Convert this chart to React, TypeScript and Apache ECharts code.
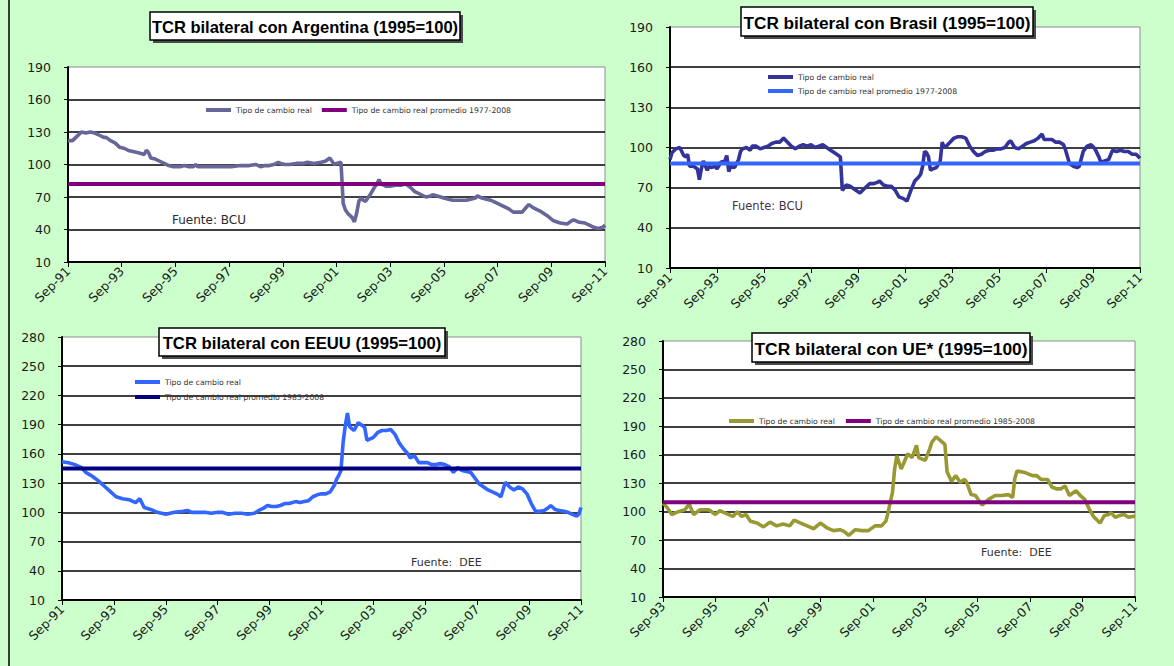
import React, { useEffect, useRef } from "react";
import * as echarts from "echarts";

// ---------- DATA (months counted from the first label of each panel) ----------
// Argentina: months since Sep-91
const argMonths = [0, 2, 4, 6, 8, 10, 12, 14, 16, 17, 19, 21, 23, 25, 27, 29, 31, 33, 34, 35, 36, 37, 39, 41, 43, 45, 47, 50, 52, 54, 56, 57, 58, 61, 65, 69, 73, 77, 81, 84, 86, 88, 90, 92, 94, 95, 97, 99, 102, 105, 107, 110, 113, 115, 117, 118, 119, 120, 122, 123, 124, 125, 127, 128, 129, 130, 131, 132, 133, 135, 137, 138, 139, 140, 142, 144, 147, 149, 151, 153, 155, 157, 160, 162, 163, 165, 168, 170, 172, 175, 178, 180, 182, 183, 185, 187, 189, 191, 194, 197, 199, 201, 203, 205, 206, 208, 211, 214, 217, 220, 223, 225, 226, 228, 231, 233, 235, 237, 239, 240];
const argValues = [122, 122, 126, 130, 129, 130, 129, 127, 125, 125, 122, 120, 116, 115, 113, 112, 111, 110, 109, 113, 111, 106, 105, 103, 101, 99, 98, 98, 99, 98, 98, 100, 98, 98, 98, 98, 98, 99, 99, 100, 98, 99, 99, 100, 102, 101, 100, 100, 101, 101, 102, 101, 102, 103, 106, 103, 100, 101, 102, 64, 58, 55, 51, 47, 55, 66, 69, 67, 66, 72, 79, 82, 86, 82, 80, 80, 81, 81, 82, 79, 75, 73, 70, 71, 72, 71, 69, 68, 67, 67, 67, 68, 69, 71, 69, 68, 67, 65, 62, 59, 56, 56, 56, 61, 63, 60, 57, 53, 48, 46, 45, 48, 49, 47, 46, 44, 42, 41, 42, 44];
const argAverage = 82;

// Brasil: months since Sep-91
const braMonths = [0, 1, 3, 5, 7, 8, 9, 10, 12, 14, 15, 16, 17, 19, 20, 21, 23, 24, 26, 28, 29, 30, 31, 33, 35, 36, 37, 39, 41, 42, 44, 46, 48, 50, 52, 54, 56, 58, 60, 62, 64, 66, 68, 70, 72, 74, 76, 78, 80, 82, 84, 86, 87, 88, 89, 90, 92, 94, 97, 99, 102, 104, 106, 107, 109, 111, 113, 115, 117, 119, 121, 123, 125, 127, 128, 129, 130, 131, 132, 133, 134, 136, 138, 139, 140, 141, 143, 145, 147, 149, 151, 153, 155, 157, 159, 161, 163, 165, 167, 169, 171, 173, 174, 176, 178, 180, 182, 184, 186, 188, 190, 191, 193, 195, 197, 199, 201, 202, 204, 206, 208, 209, 211, 213, 215, 217, 219, 220, 222, 224, 226, 228, 230, 232, 234, 236, 238, 240];
const braValues = [91, 96, 99, 100, 94, 93, 95, 86, 86, 84, 76, 84, 90, 83, 86, 85, 86, 84, 89, 90, 94, 82, 86, 85, 91, 97, 99, 100, 98, 101, 101, 99, 100, 101, 103, 104, 104, 107, 104, 101, 99, 101, 102, 101, 102, 100, 101, 102, 100, 98, 96, 94, 93, 68, 70, 72, 71, 69, 66, 69, 73, 73, 74, 75, 72, 71, 71, 68, 63, 62, 60, 68, 75, 78, 80, 86, 97, 96, 93, 83, 84, 85, 90, 104, 100, 101, 104, 107, 108, 108, 107, 101, 97, 94, 95, 97, 98, 98, 99, 99, 100, 104, 105, 100, 99, 101, 103, 104, 105, 107, 110, 106, 106, 106, 104, 104, 102, 98, 88, 86, 85, 86, 97, 101, 102, 99, 93, 89, 90, 91, 98, 97, 98, 97, 97, 95, 95, 92];
const braAverage = 88;

// EEUU: months since Sep-91
const usaMonths = [0, 3, 6, 9, 11, 14, 17, 20, 22, 25, 28, 31, 34, 36, 38, 41, 44, 48, 52, 56, 58, 60, 63, 66, 69, 72, 74, 77, 80, 83, 86, 89, 91, 93, 95, 97, 99, 101, 103, 105, 108, 110, 112, 114, 116, 118, 120, 122, 124, 126, 127, 128, 129, 130, 131, 132, 133, 134, 135, 137, 139, 140, 141, 142, 144, 146, 148, 150, 152, 154, 156, 158, 160, 161, 163, 165, 167, 169, 171, 173, 175, 177, 179, 181, 183, 185, 187, 189, 191, 193, 195, 197, 199, 201, 203, 205, 207, 209, 211, 213, 215, 217, 219, 221, 223, 225, 226, 228, 230, 232, 234, 236, 238, 239, 240];
const usaValues = [152, 151, 149, 146, 141, 137, 132, 126, 122, 116, 114, 113, 110, 114, 105, 103, 100, 98, 100, 101, 102, 100, 100, 100, 99, 100, 100, 98, 99, 99, 98, 99, 102, 104, 107, 106, 106, 107, 109, 109, 111, 110, 111, 112, 116, 118, 119, 119, 121, 128, 134, 138, 143, 172, 189, 202, 188, 186, 184, 192, 189, 187, 174, 175, 177, 182, 184, 184, 185, 180, 171, 165, 160, 156, 158, 151, 151, 151, 149, 149, 150, 149, 147, 141, 146, 143, 142, 141, 135, 129, 126, 123, 121, 119, 116, 131, 126, 123, 126, 124, 119, 109, 101, 101, 102, 105, 107, 103, 102, 101, 100, 98, 96, 98, 105];
const usaAverage = 145;

// UE: months since Sep-93
const ueMonths = [0, 2, 4, 7, 10, 12, 14, 17, 21, 24, 26, 29, 32, 34, 36, 38, 40, 43, 46, 49, 52, 55, 58, 60, 63, 66, 69, 72, 75, 78, 81, 83, 85, 88, 91, 94, 97, 100, 102, 103, 104, 105, 106, 107, 109, 112, 114, 116, 117, 120, 121, 122, 123, 125, 127, 129, 130, 132, 134, 136, 138, 139, 141, 143, 146, 149, 152, 155, 158, 160, 161, 162, 164, 166, 169, 171, 173, 176, 178, 180, 182, 184, 186, 189, 191, 193, 195, 197, 200, 202, 204, 205, 207, 209, 211, 213, 215, 216];
const ueValues = [109, 104, 97, 100, 102, 108, 97, 102, 102, 97, 101, 98, 95, 100, 95, 97, 90, 88, 84, 89, 85, 87, 85, 91, 88, 85, 82, 88, 83, 80, 81, 79, 75, 81, 80, 80, 85, 85, 90, 99, 110, 120, 145, 159, 145, 161, 157, 170, 157, 154, 160, 166, 173, 179, 175, 171, 142, 132, 138, 131, 134, 131, 118, 117, 107, 113, 117, 117, 118, 115, 135, 143, 142, 141, 138, 138, 134, 134, 126, 124, 124, 127, 117, 122, 117, 113, 103, 95, 88, 96, 97, 99, 94, 96, 97, 94, 95, 95];
const ueAverage = 110;

const realLabel = "Tipo de cambio real";
const avgLabel7708 = "Tipo de cambio real promedio 1977-2008";
const avgLabel8508 = "Tipo de cambio real promedio 1985-2008";
const titleTexts = [
  "TCR bilateral con Argentina (1995=100)",
  "TCR bilateral con Brasil (1995=100)",
  "TCR bilateral con EEUU (1995=100)",
  "TCR bilateral con UE* (1995=100)",
];
const sourceTexts = ["Fuente: BCU", "Fuente: BCU", "Fuente:  DEE", "Fuente:  DEE"];
const firstYears = [91, 91, 91, 93]; // first "Sep-YY" label of each panel

const FONT = '"DejaVu Sans", Verdana, sans-serif';

function zip(ms: number[], vs: number[]) {
  return ms.map((m, i) => [m, vs[i]]);
}

export default function App() {
  const ref = useRef<HTMLDivElement>(null);

  useEffect(() => {
    if (!ref.current) return;
    const chart = echarts.init(ref.current, null, { renderer: "svg" });

    const panels = [
      {
        id: "Argentina", months: argMonths, values: argValues, avg: argAverage, avgLabel: avgLabel7708,
        color: "#666699", avgColor: "#800080", yMax: 190, xMax: 240,
        grid: { left: 68, top: 67, width: 537, height: 195 },
        legend: { left: 206, top: 105, orient: "horizontal", itemGap: 10 },
        title: { x: 150, y: 12, w: 310, h: 28, fs: 16.5 },
        source: { x: 172, y: 220, fs: 12, color: "#2a2a2a" },
      },
      {
        id: "Brasil", months: braMonths, values: braValues, avg: braAverage, avgLabel: avgLabel7708,
        color: "#333399", avgColor: "#3366ff", yMax: 190, xMax: 240,
        grid: { left: 670, top: 27, width: 470, height: 241 },
        legend: { left: 768, top: 72, orient: "vertical", itemGap: 4 },
        title: { x: 741, y: 7, w: 292, h: 29, fs: 17.2 },
        source: { x: 732, y: 206, fs: 11.5, color: "#4a2f4a" },
      },
      {
        id: "EEUU", months: usaMonths, values: usaValues, avg: usaAverage, avgLabel: avgLabel8508,
        color: "#3366ff", avgColor: "#000080", yMax: 280, xMax: 240,
        grid: { left: 62, top: 337, width: 519, height: 263 },
        legend: { left: 135, top: 377, orient: "vertical", itemGap: 5 },
        title: { x: 159, y: 328, w: 286, h: 28, fs: 16.7 },
        source: { x: 411, y: 562, fs: 11, color: "#333333" },
      },
      {
        id: "UE", months: ueMonths, values: ueValues, avg: ueAverage, avgLabel: avgLabel8508,
        color: "#999933", avgColor: "#800080", yMax: 280, xMax: 216,
        grid: { left: 663, top: 341, width: 472, height: 256 },
        legend: { left: 729, top: 416, orient: "horizontal", itemGap: 11 },
        title: { x: 752, y: 333, w: 278, h: 29, fs: 17.4 },
        source: { x: 981, y: 552, fs: 11, color: "#333333" },
      },
    ];

    const sep = " \u00b7 ";
    const grids: any[] = [];
    const xAxes: any[] = [];
    const yAxes: any[] = [];
    const series: any[] = [];
    const legends: any[] = [];
    const graphics: any[] = [
      { type: "line", shape: { x1: 9, y1: 0, x2: 9, y2: 666 }, style: { stroke: "#000", lineWidth: 1.5 }, z: 10 },
    ];

    panels.forEach((p, i) => {
      grids.push({
        ...p.grid,
        show: true,
        backgroundColor: "#ffffff",
        borderColor: "#8c8c8c",
        borderWidth: 1,
        containLabel: false,
      });
      const startYear = firstYears[i];
      xAxes.push({
        type: "value",
        gridIndex: i,
        min: 0,
        max: p.xMax,
        interval: 24,
        axisLine: { show: true, onZero: false, lineStyle: { color: "#000", width: 2 } },
        axisTick: { show: true, length: 5, lineStyle: { color: "#000", width: 1 } },
        axisLabel: {
          rotate: 45,
          margin: 7,
          fontSize: 12.5,
          fontFamily: FONT,
          color: "#1a1a1a",
          showMinLabel: true,
          showMaxLabel: true,
          formatter: (v: number) => {
            const yy = (startYear + Math.round(v / 12)) % 100;
            return "Sep-" + (yy < 10 ? "0" + yy : String(yy));
          },
        },
        splitLine: { show: false },
      });
      yAxes.push({
        type: "value",
        gridIndex: i,
        min: 10,
        max: p.yMax,
        interval: 30,
        axisLine: { show: true, lineStyle: { color: "#000", width: 2 } },
        axisTick: { show: true, length: 4, lineStyle: { color: "#000", width: 1 } },
        axisLabel: { margin: 17, fontSize: 12.5, fontFamily: FONT, color: "#1a1a1a" },
        splitLine: { show: true, showMinLine: false, showMaxLine: false, lineStyle: { color: "#000", width: 1.5 } },
      });
      const realName = realLabel + sep + p.id;
      const avgName = p.avgLabel + sep + p.id;
      series.push({
        type: "line",
        name: realName,
        xAxisIndex: i,
        yAxisIndex: i,
        data: zip(p.months, p.values),
        symbol: "none",
        showSymbol: false,
        lineStyle: { color: p.color, width: 3.6 },
        itemStyle: { color: p.color },
        z: 3,
      });
      series.push({
        type: "line",
        name: avgName,
        xAxisIndex: i,
        yAxisIndex: i,
        data: [[0, p.avg], [p.xMax, p.avg]],
        symbol: "none",
        showSymbol: false,
        lineStyle: { color: p.avgColor, width: 4 },
        itemStyle: { color: p.avgColor },
        z: 4,
      });
      legends.push({
        data: [realName, avgName],
        left: p.legend.left,
        top: p.legend.top,
        orient: p.legend.orient,
        itemGap: p.legend.itemGap,
        itemWidth: 25,
        itemHeight: 4,
        icon: "rect",
        padding: 0,
        selectedMode: false,
        itemStyle: { borderWidth: 0 },
        textStyle: { fontSize: 7.7, lineHeight: 10, fontFamily: FONT, color: "#333333" },
        formatter: (name: string) => name.split(sep)[0],
      });

      const t = p.title;
      graphics.push({
        type: "group",
        z: 20,
        children: [
          { type: "rect", shape: { x: t.x + 3, y: t.y + 3, width: t.w, height: t.h }, style: { fill: "#4a4a4a" } },
          { type: "rect", shape: { x: t.x, y: t.y, width: t.w, height: t.h }, style: { fill: "#ffffff", stroke: "#000", lineWidth: 1.5 } },
          {
            type: "text",
            x: t.x + t.w / 2,
            y: t.y + t.h / 2 + 1,
            style: {
              text: titleTexts[i],
              fontSize: t.fs,
              fontWeight: "bold",
              fontFamily: '"Liberation Sans", Arial, sans-serif',
              fill: "#000",
              align: "center",
              verticalAlign: "middle",
            },
          },
        ],
      });
      const s = p.source;
      graphics.push({
        type: "text",
        z: 20,
        x: s.x,
        y: s.y,
        style: {
          text: sourceTexts[i],
          fontSize: s.fs,
          fontFamily: FONT,
          fill: s.color,
          align: "left",
          verticalAlign: "middle",
        },
      });
    });

    chart.setOption({
      animation: false,
      backgroundColor: "#ccffcc",
      grid: grids,
      xAxis: xAxes,
      yAxis: yAxes,
      legend: legends,
      series,
      graphic: graphics,
    });

    return () => chart.dispose();
  }, []);

  return (
    <div
      ref={ref}
      style={{ position: "fixed", left: 0, top: 0, width: 1174, height: 666, background: "#ccffcc" }}
    />
  );
}
